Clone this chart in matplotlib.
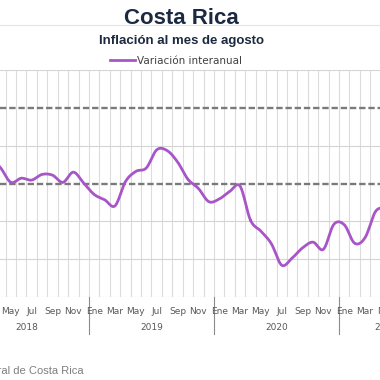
import numpy as np
import matplotlib
matplotlib.use("Agg")
import matplotlib.pyplot as plt
from matplotlib.transforms import blended_transform_factory
from matplotlib.lines import Line2D

# ---------------- data ----------------
month_names = ["Ene", "Feb", "Mar", "Abr", "May", "Jun",
               "Jul", "Ago", "Sep", "Oct", "Nov", "Dic"]
years = ["2018", "2019", "2020", "2021"]
months_per_year = [12, 12, 12, 9]
first_month = 2  # series starts in Mar 2018 (index from Jan 2018)
inflation = [2.68, 2.42, 2.03, 2.14, 2.09, 2.24, 2.22, 2.03, 2.30, 2.01,
             1.71, 1.57, 1.41, 2.05, 2.32, 2.41, 2.89, 2.87, 2.57, 2.11, 1.87, 1.52,
             1.59, 1.79, 1.93, 1.03, 0.74, 0.41, -0.16, 0.03, 0.30, 0.45, 0.26, 0.92,
             0.91, 0.42, 0.57, 1.26, 1.37]
solid_levels = [-1, 0, 1, 3, 5]
target_band = [2, 4]

title = "Costa Rica"
subtitle = "Inflación al mes de agosto"
series_name = "Variación interanual"
source = "Fuente: Banco Central de Costa Rica"

# ---------------- figure ----------------
W = H = 380
fig = plt.figure(figsize=(3.8, 3.8), dpi=100)
fig.patch.set_facecolor("white")
top_px, bot_px = 70, 297
ax = fig.add_axes([0, 1 - bot_px / H, 1, (bot_px - top_px) / H])
ax.set_xlim(2.96, 39.43)
ax.set_ylim(-1, 5)
for s in ax.spines.values():
    s.set_visible(False)
ax.set_xticks([])
ax.set_yticks([])

total = sum(months_per_year)
for b in np.arange(-0.5, total + 0.5, 1.0):
    ax.axvline(b, color="#dcdcdc", lw=0.8, zorder=0)
for v in solid_levels:
    ax.axhline(v, color="#d4d4d4", lw=0.8, zorder=0)
for v in target_band:
    ax.axhline(v, color="#7a7a7a", lw=1.7, ls=(0, (2.7, 1.2)), zorder=1)

# smoothed line (Catmull-Rom through data points)
x = np.arange(first_month, first_month + len(inflation), dtype=float)
y = np.array(inflation, dtype=float)
px = np.concatenate([[2 * x[0] - x[1]], x, [2 * x[-1] - x[-2]]])
py = np.concatenate([[2 * y[0] - y[1]], y, [2 * y[-1] - y[-2]]])
xs, ys = [], []
t = np.linspace(0, 1, 20)
for i in range(1, len(px) - 2):
    p0, p1, p2, p3 = py[i - 1], py[i], py[i + 1], py[i + 2]
    q0, q1, q2, q3 = px[i - 1], px[i], px[i + 1], px[i + 2]
    for arr, (a0, a1, a2, a3) in ((ys, (p0, p1, p2, p3)), (xs, (q0, q1, q2, q3))):
        arr.extend(0.5 * ((2 * a1) + (-a0 + a2) * t + (2 * a0 - 5 * a1 + 4 * a2 - a3) * t ** 2
                          + (-a0 + 3 * a1 - 3 * a2 + a3) * t ** 3))
line_color = "#a855c8"
ax.plot(xs, ys, color=line_color, lw=2.0, solid_capstyle="round", zorder=3)

# category axis labels
tr = blended_transform_factory(ax.transData, ax.transAxes)
h_ax = bot_px - top_px
m_y = -(311 - bot_px) / h_ax
y_y = -(328 - bot_px) / h_ax
d_y = -(334 - bot_px) / h_ax
lab_color = "#595959"
m = 0
for yr, n in zip(years, months_per_year):
    for k in range(n):
        if k % 2 == 0:
            ax.text(m + k, m_y, month_names[k], transform=tr, ha="center", va="center",
                    fontsize=6.5, color=lab_color, clip_on=False)
    ax.text(m + (n - 1) / 2, y_y, yr, transform=tr, ha="center", va="center",
            fontsize=6.5, color=lab_color, clip_on=False)
    ax.plot([m - 0.5, m - 0.5], [0, d_y], transform=tr, color="#8c8c8c", lw=0.8,
            clip_on=False)
    m += n

# titles
navy = "#1b2a41"
fig.add_artist(Line2D([0, 1], [1 - 25 / H, 1 - 25 / H], color="#e4e4e4", lw=0.8))
fig.text(181.5 / W, 1 - 24 / H, title, ha="center", va="baseline", fontsize=16,
         fontweight="bold", color=navy, family="Liberation Sans")
fig.text(181.5 / W, 1 - 44 / H, subtitle, ha="center", va="baseline", fontsize=9.5,
         fontweight="bold", color=navy, family="Liberation Sans")
# legend
fig.add_artist(Line2D([110 / W, 135 / W], [1 - 60.3 / H, 1 - 60.3 / H],
                      color=line_color, lw=2.0))
fig.text(137 / W, 1 - 64 / H, series_name, ha="left", va="baseline", fontsize=7.5,
         color="#404040")
# source
fig.text(84 / W, 1 - 374 / H, source, ha="right", va="baseline", fontsize=8,
         color="#7f7f7f", family="Liberation Sans")

fig.savefig("out.png", dpi=100, facecolor="white")
